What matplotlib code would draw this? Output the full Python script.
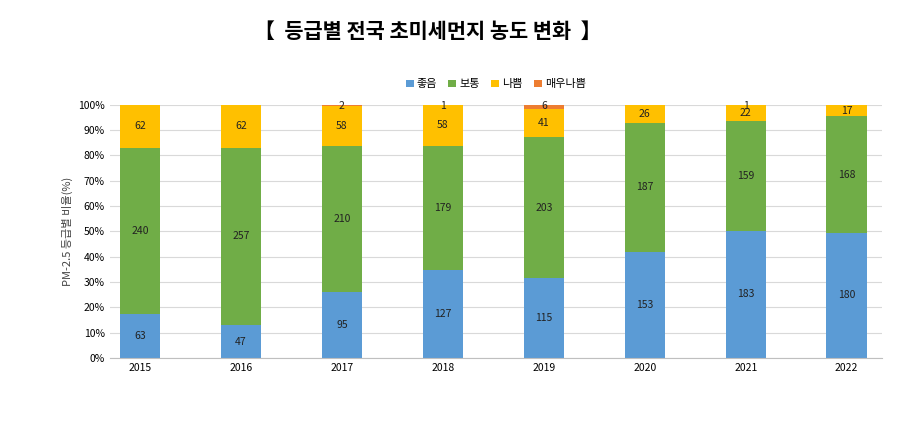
import matplotlib
matplotlib.use('Agg')
import matplotlib.pyplot as plt
import numpy as np

plt.rcParams['font.family'] = ['Noto Sans CJK KR', 'DejaVu Sans']

years = ['2015', '2016', '2017', '2018', '2019', '2020', '2021', '2022']
good = [63, 47, 95, 127, 115, 153, 183, 180]
normal = [240, 257, 210, 179, 203, 187, 159, 168]
bad = [62, 62, 58, 58, 41, 26, 22, 17]
very_bad = [0, 0, 2, 1, 6, 0, 1, 0]

series = [('좋음', good, '#5B9BD5'), ('보통', normal, '#70AD47'),
          ('나쁨', bad, '#FFC000'), ('매우나쁨', very_bad, '#ED7D31')]

totals = np.sum([good, normal, bad, very_bad], axis=0)
x = np.arange(len(years))

fig = plt.figure(figsize=(9, 4.22), dpi=100)
ax = fig.add_axes([0.122, 0.152, 0.858, 0.6])

bottom = np.zeros(len(years))
for name, vals, color in series:
    pct = np.array(vals) / totals * 100
    ax.bar(x, pct, 0.4, bottom=bottom, color=color, label=name)
    for i, v in enumerate(vals):
        if v > 0:
            yc = bottom[i] + pct[i] / 2
            if pct[i] < 2:
                yc = 99.3
            ax.text(x[i], yc, str(v), ha='center', va='center', fontsize=7.5, color='#222222')
    bottom += pct

ax.set_ylim(0, 100)
ax.set_xlim(-0.3, 7.35)
ax.set_xticks(x)
ax.set_xticklabels(years, fontsize=7.5)
ax.set_yticks(np.arange(0, 101, 10))
ax.set_yticklabels([f'{v}%' for v in range(0, 101, 10)], fontsize=7.5)
ax.yaxis.grid(True, color='#d9d9d9', linewidth=0.8)
ax.set_axisbelow(True)
for s in ['top', 'right', 'left']:
    ax.spines[s].set_visible(False)
ax.spines['bottom'].set_color('#bfbfbf')
ax.tick_params(length=0)
ax.set_ylabel('PM-2.5 등급별 비율(%)', fontsize=8, color='#444444')

fig.text(0.475, 0.925, '【  등급별 전국 초미세먼지 농도 변화  】', ha='center', va='center',
         fontsize=15, fontweight='bold')
ax.legend(loc='center', bbox_to_anchor=(0.5, 1.08), ncol=4, frameon=False,
          fontsize=8, handlelength=0.7, handleheight=0.7, columnspacing=1.0, handletextpad=0.3)

fig.savefig('out.png', dpi=100)
